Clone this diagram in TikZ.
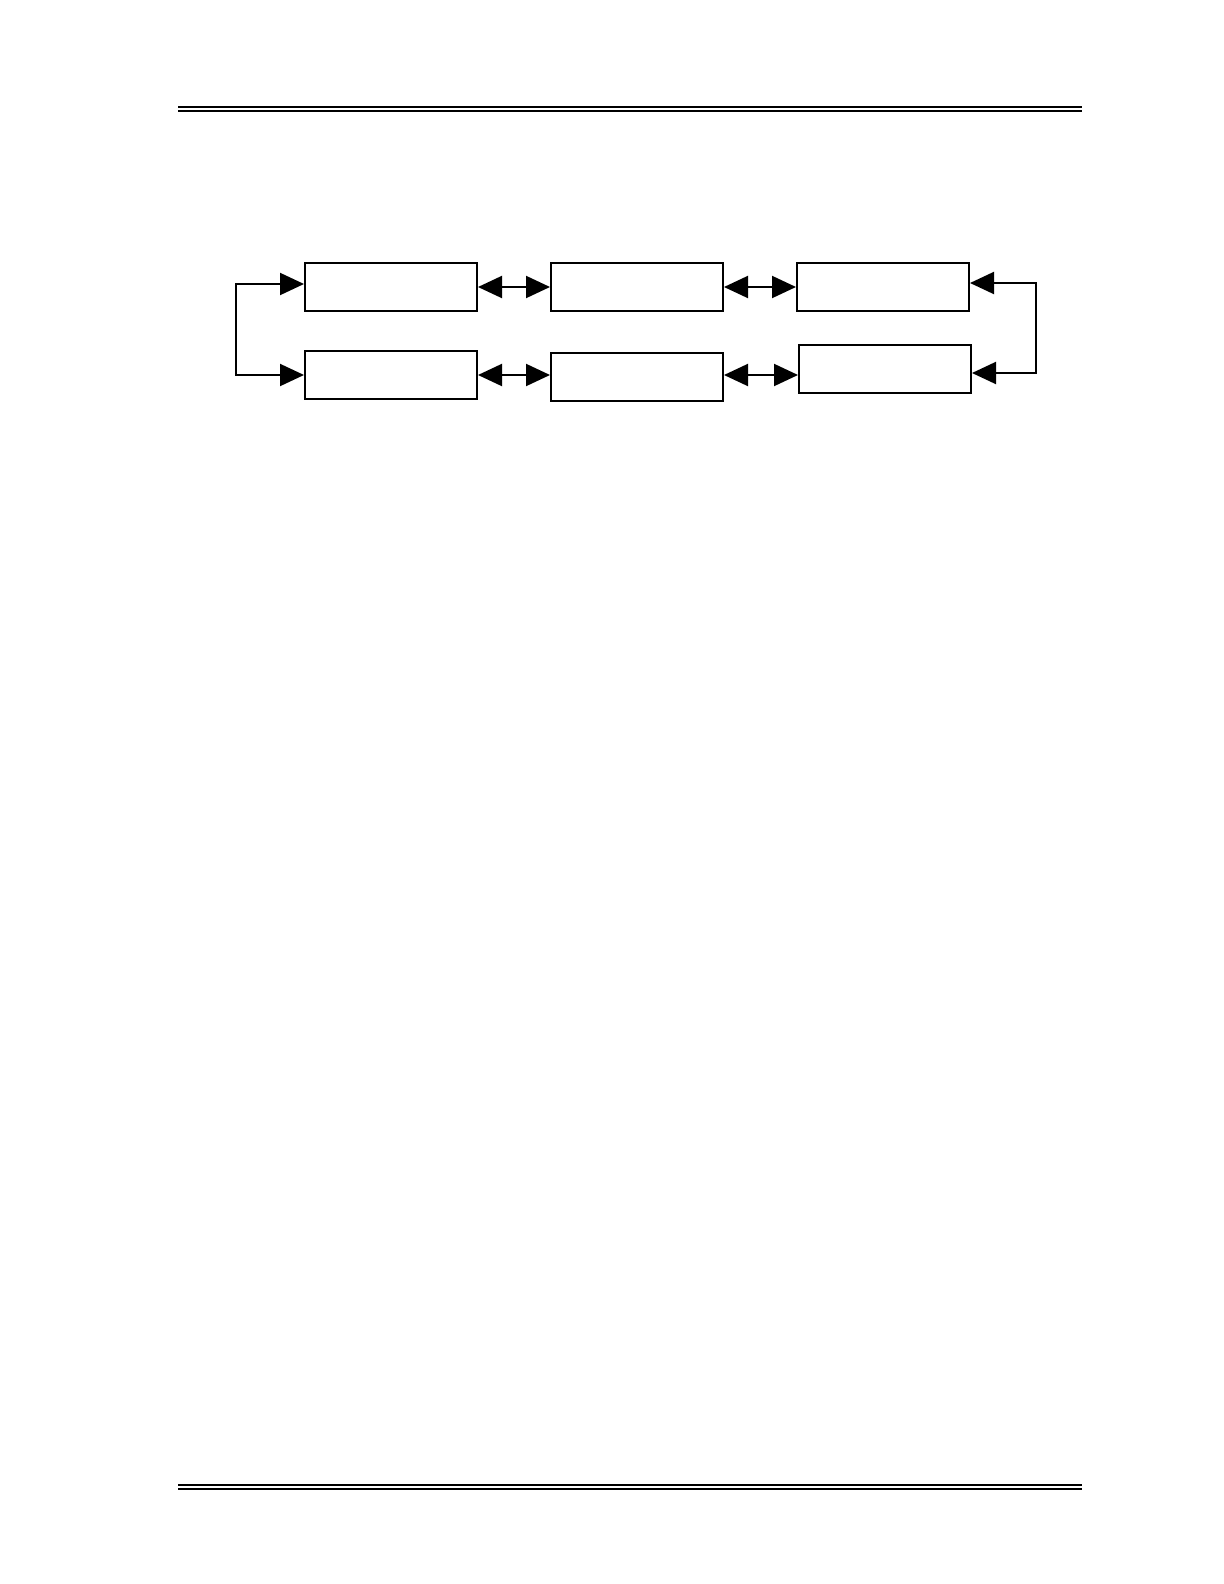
\documentclass[tikz,border=0pt]{standalone}
\usetikzlibrary{arrows.meta}
\begin{document}
\begin{tikzpicture}[x=0.5pt,y=-0.5pt,
  box/.style={draw,line width=1pt,rectangle,inner sep=0pt,minimum width=86pt,minimum height=24pt},
  conn/.style={line width=1pt,{Triangle[length=12pt,width=11pt]}-{Triangle[length=12pt,width=11pt]}},
  rule/.style={line width=0.9pt}]
\useasboundingbox (0,0) rectangle (1224,1584);
% header and footer rules
\coordinate (hA) at (178,107.3); \coordinate (hB) at (1082,107.3);
\coordinate (hC) at (178,111); \coordinate (hD) at (1082,111);
\draw[rule] (hA) -- (hB);
\draw[rule] (hC) -- (hD);
\coordinate (fA) at (178,1484.8); \coordinate (fB) at (1082,1484.8);
\coordinate (fC) at (178,1488.8); \coordinate (fD) at (1082,1488.8);
\draw[rule] (fA) -- (fB);
\draw[rule] (fC) -- (fD);
% boxes
\node[box] (b1) at (391,287) {};
\node[box] (b2) at (637,287) {};
\node[box] (b3) at (883,287) {};
\node[box] (b4) at (391,375) {};
\node[box] (b5) at (637,377) {};
\node[box] (b6) at (885,369) {};
% connectors
\draw[conn] (b1.east) -- (b2.west);
\draw[conn] (b2.east) -- (b3.west);
\draw[conn] (b4.east) -- (b4.east -| b5.west);
\draw[conn] ([yshift=1pt]b5.east) -- ([yshift=1pt]b5.east -| b6.west);
\draw[conn] ([yshift=1.5pt]b1.west) -- ++(-68,0) |- (b4.west);
\draw[conn] ([yshift=2pt]b3.east) -- ++(66,0) |- ([yshift=-2pt]b6.east);
\end{tikzpicture}
\end{document}
